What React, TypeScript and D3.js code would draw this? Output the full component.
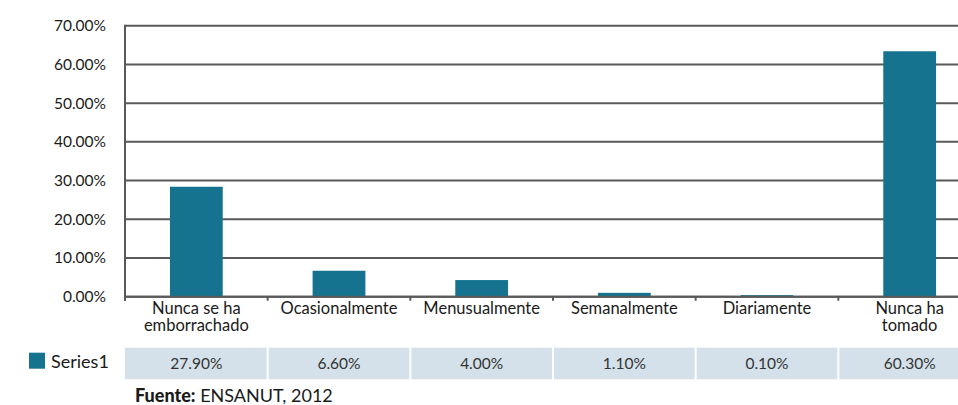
import React from "react";
import * as d3 from "d3";

const categories = [
  ["Nunca se ha", "emborrachado"],
  ["Ocasionalmente"],
  ["Menusualmente"],
  ["Semanalmente"],
  ["Diariamente"],
  ["Nunca ha", "tomado"],
];
// bar heights as drawn in the picture (%)
const barValues = [28.4, 6.7, 4.3, 1.0, 0.4, 63.4];
// values printed in the data table
const tableLabels = ["27.90%", "6.60%", "4.00%", "1.10%", "0.10%", "60.30%"];
const yTicks = [0, 10, 20, 30, 40, 50, 60, 70];
const seriesName = "Series1";

const width = 958;
const height = 405;
const font = "Lato, 'Open Sans', sans-serif";

export default function App() {
  const left = 125;
  const right = 981;
  const top = 25.7;
  const bottom = 296.7;

  const x = d3
    .scaleBand<number>()
    .domain(d3.range(categories.length))
    .range([left, right])
    .paddingInner(0)
    .paddingOuter(0);
  const y = d3.scaleLinear().domain([0, 70]).range([bottom, top]);
  const barW = x.bandwidth() * 0.37;

  return (
    <svg
      width={width}
      height={height}
      style={{ position: "absolute", left: 0, top: 0, fontFamily: font }}
    >
      <rect width={width} height={height} fill="#fff" />
      {/* grid */}
      {yTicks.map((t) => (
        <g key={t}>
          <line x1={left} x2={right} y1={y(t)} y2={y(t)} stroke="#595959" strokeWidth={2} />
          <text
            x={106}
            y={y(t)}
            dy="0.35em"
            textAnchor="end"
            fontSize={15.5}
            fill="#1a1a1a"
          >
            {t.toFixed(2)}%
          </text>
        </g>
      ))}
      {/* bars */}
      {barValues.map((v, i) => (
        <rect
          key={i}
          x={x(i)! + x.bandwidth() / 2 - barW / 2}
          y={y(v)}
          width={barW}
          height={bottom - y(v)}
          fill="#16738f"
        />
      ))}
      <line x1={left} x2={right} y1={bottom} y2={bottom} stroke="#595959" strokeWidth={2} />
      <line x1={left} x2={left} y1={top - 1} y2={bottom + 4} stroke="#595959" strokeWidth={2} />
      {d3.range(categories.length + 1).map((i) => {
        const xx = left + i * x.step();
        return (
          <line key={i} x1={xx} x2={xx} y1={bottom} y2={bottom + 4} stroke="#595959" strokeWidth={2} />
        );
      })}
      {/* category labels */}
      {categories.map((lines, i) => (
        <text
          key={i}
          x={x(i)! + x.bandwidth() / 2}
          y={314}
          textAnchor="middle"
          fontSize={16.5}
          fill="#1a1a1a"
        >
          {lines.map((l, j) => (
            <tspan key={j} x={x(i)! + x.bandwidth() / 2} dy={j === 0 ? 0 : 17}>
              {l}
            </tspan>
          ))}
        </text>
      ))}
      {/* data table */}
      {tableLabels.map((t, i) => (
        <g key={i}>
          <rect
            x={x(i)! + (i === 0 ? 0 : 1)}
            y={347.7}
            width={x.bandwidth() - (i === 0 ? 1 : 2)}
            height={31.6}
            fill="#d4e1ea"
          />
          <text
            x={x(i)! + x.bandwidth() / 2}
            y={363.5}
            dy="0.35em"
            textAnchor="middle"
            fontSize={15.5}
            fill="#333"
          >
            {t}
          </text>
        </g>
      ))}
      {/* legend */}
      <rect x={29} y={352.7} width={16} height={16} fill="#16738f" />
      <text x={51} y={368} fontSize={18} fill="#1a1a1a">
        {seriesName}
      </text>
      {/* source */}
      <text x={135} y={402} fontSize={18} fill="#1a1a1a">
        <tspan fontWeight={900}>Fuente:</tspan> ENSANUT, 2012
      </text>
    </svg>
  );
}
